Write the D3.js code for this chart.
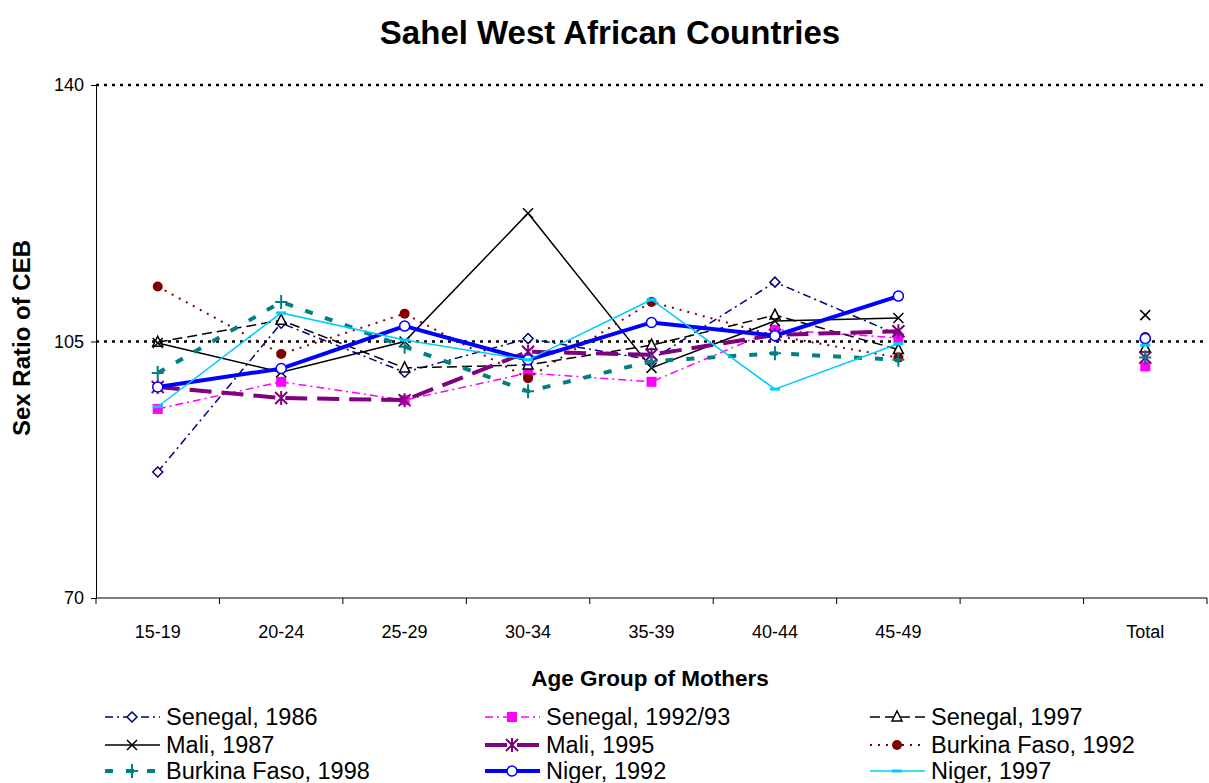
<!DOCTYPE html>
<html>
<head>
<meta charset="utf-8">
<script src="https://cdn.jsdelivr.net/npm/d3@7"></script>
<style>
  body { margin: 0; background: #fff; }
  svg text { font-family: "Liberation Sans", Arial, sans-serif; fill: #000; }
</style>
</head>
<body>
<script>
// categories on the x axis (one empty slot before Total)
const categories = ["15-19", "20-24", "25-29", "30-34", "35-39", "40-44", "45-49", "", "Total"];
const yTicks = [70, 105, 140];

// series values, null = no value for that category
const senegal1986  = [87.2, 107.5, 100.8, 105.4, 102.5, 113.1, 105.9, null, 105.2];
const senegal1992  = [95.8,  99.5,  97.0, 100.7,  99.5, 106.6, 105.5, null, 101.6];
const senegal1997  = [104.9, 107.9, 101.4, 101.8, 104.5, 108.6, 103.9, null, 104.1];
const mali1987     = [104.8, 100.8, 105.0, 122.5, 101.4, 107.8, 108.2, null, 108.6];
const mali1995     = [98.8,  97.3,  97.0, 103.6, 103.2, 105.9, 106.4, null, 102.8];
const burkina1992  = [112.5, 103.3, 108.8, 100.0, 110.4, 105.8, 102.8, null, 105.6];
const burkina1998  = [100.7, 110.4, 104.3,  98.2, 102.3, 103.4, 102.5, null, 102.8];
const niger1992    = [98.8, 101.3, 107.1, 102.5, 107.6, 105.8, 111.2, null, 105.4];
const niger1997    = [96.1, 108.9, 105.2, 102.5, 110.7,  98.5, 104.7, null, 104.5];

const series = [
  {name: "Senegal, 1986", values: senegal1986, color: "#000080", width: 1.5, dash: "8,4,2,4", marker: "diamond"},
  {name: "Senegal, 1992/93", values: senegal1992, color: "#ff00ff", width: 1.5, dash: "8,4,2,4", marker: "square"},
  {name: "Senegal, 1997", values: senegal1997, color: "#000000", width: 1.5, dash: "10,5", marker: "triangle"},
  {name: "Mali, 1987", values: mali1987, color: "#000000", width: 1.5, dash: null, marker: "x"},
  {name: "Mali, 1995", values: mali1995, color: "#800080", width: 4, dash: "22,10", marker: "asterisk"},
  {name: "Burkina Faso, 1992", values: burkina1992, color: "#800000", width: 2, dash: "2,6", marker: "circleFilled"},
  {name: "Burkina Faso, 1998", values: burkina1998, color: "#008080", width: 4, dash: "8,13", marker: "plus"},
  {name: "Niger, 1992", values: niger1992, color: "#0000ff", width: 4, dash: null, marker: "circle"},
  {name: "Niger, 1997", values: niger1997, color: "#00ccff", width: 1.5, dash: null, marker: "dash"}
];

const W = 1209, H = 783;
const mLeft = 96, mRight = 1207, mTop = 85, mBottom = 598;

const svg = d3.select("body").append("svg").attr("width", W).attr("height", H);

const x = d3.scaleBand().domain(categories.map((c, i) => i)).range([mLeft, mRight]);
const y = d3.scaleLinear().domain([70, 140]).range([mBottom, mTop]);

// title
svg.append("text").attr("x", 610).attr("y", 44).attr("text-anchor", "middle")
  .style("font-size", "33px").style("font-weight", "bold").text("Sahel West African Countries");

// gridlines (dotted) at 105 and 140
svg.selectAll(".grid").data([105, 140]).enter().append("line")
  .attr("x1", mLeft).attr("x2", mRight).attr("y1", d => y(d)).attr("y2", d => y(d))
  .attr("stroke", "#000").attr("stroke-width", 2.5).attr("stroke-dasharray", "3,5");

// y axis
const yAxis = d3.axisLeft(y).tickValues(yTicks).tickSize(5).tickPadding(7);
const gy = svg.append("g").attr("transform", `translate(${mLeft},0)`).call(yAxis);
gy.select(".domain").attr("stroke", "#000");
gy.selectAll("text").style("font-size", "18px");

// x axis line with ticks at category boundaries
svg.append("line").attr("x1", mLeft).attr("x2", mRight).attr("y1", mBottom).attr("y2", mBottom).attr("stroke", "#000");
const bounds = categories.map((c, i) => x(i)).concat([mRight]);
svg.selectAll(".xtick").data(bounds).enter().append("line")
  .attr("x1", d => d).attr("x2", d => d).attr("y1", mBottom).attr("y2", mBottom + 6).attr("stroke", "#000");
svg.selectAll(".xlab").data(categories).enter().append("text")
  .attr("x", (d, i) => x(i) + x.bandwidth() / 2).attr("y", 638).attr("text-anchor", "middle")
  .style("font-size", "18px").text(d => d);

// axis titles
svg.append("text").attr("x", 650).attr("y", 686).attr("text-anchor", "middle")
  .style("font-size", "22.5px").style("font-weight", "bold").text("Age Group of Mothers");
svg.append("text").attr("transform", "translate(30,338) rotate(-90)").attr("text-anchor", "middle")
  .style("font-size", "24px").style("font-weight", "bold").text("Sex Ratio of CEB");

function drawMarker(g, type, cx, cy, s) {
  const r = 5;
  if (type === "diamond") {
    g.append("path").attr("d", `M${cx},${cy - r}L${cx + r},${cy}L${cx},${cy + r}L${cx - r},${cy}Z`)
      .attr("fill", "#fff").attr("stroke", s.color).attr("stroke-width", 1.5);
  } else if (type === "square") {
    g.append("rect").attr("x", cx - 5).attr("y", cy - 5).attr("width", 10).attr("height", 10).attr("fill", s.color);
  } else if (type === "triangle") {
    g.append("path").attr("d", `M${cx},${cy - 6}L${cx + 5},${cy + 4}L${cx - 5},${cy + 4}Z`)
      .attr("fill", "#fff").attr("stroke", s.color).attr("stroke-width", 1.5);
  } else if (type === "x") {
    g.append("path").attr("d", `M${cx - 5},${cy - 5}L${cx + 5},${cy + 5}M${cx - 5},${cy + 5}L${cx + 5},${cy - 5}`)
      .attr("stroke", s.color).attr("stroke-width", 1.5);
  } else if (type === "asterisk") {
    g.append("path").attr("d", `M${cx - 6},${cy - 6}L${cx + 6},${cy + 6}M${cx - 6},${cy + 6}L${cx + 6},${cy - 6}M${cx},${cy - 7}L${cx},${cy + 7}`)
      .attr("stroke", s.color).attr("stroke-width", 2);
  } else if (type === "circleFilled") {
    g.append("circle").attr("cx", cx).attr("cy", cy).attr("r", 5).attr("fill", s.color);
  } else if (type === "plus") {
    g.append("path").attr("d", `M${cx - 6},${cy}L${cx + 6},${cy}M${cx},${cy - 7}L${cx},${cy + 7}`)
      .attr("stroke", s.color).attr("stroke-width", 2);
  } else if (type === "circle") {
    g.append("circle").attr("cx", cx).attr("cy", cy).attr("r", 5).attr("fill", "#fff")
      .attr("stroke", s.color).attr("stroke-width", 1.5);
  } else if (type === "dash") {
    g.append("line").attr("x1", cx - 5).attr("x2", cx + 5).attr("y1", cy).attr("y2", cy)
      .attr("stroke", s.color).attr("stroke-width", 3);
  }
}

const line = d3.line()
  .defined(d => d != null)
  .x((d, i) => x(i) + x.bandwidth() / 2)
  .y(d => y(d));

series.forEach(s => {
  const g = svg.append("g");
  g.append("path").attr("d", line(s.values)).attr("fill", "none")
    .attr("stroke", s.color).attr("stroke-width", s.width)
    .attr("stroke-dasharray", s.dash);
  s.values.forEach((v, i) => {
    if (v != null) drawMarker(g, s.marker, x(i) + x.bandwidth() / 2, y(v), s);
  });
});

// legend, 3 columns x 3 rows
const legCols = [105, 485, 870];
const legRows = [717, 745, 771];
series.forEach((s, i) => {
  const lx = legCols[i % 3], ly = legRows[Math.floor(i / 3)];
  const g = svg.append("g");
  g.append("line").attr("x1", lx).attr("x2", lx + 55).attr("y1", ly).attr("y2", ly)
    .attr("stroke", s.color).attr("stroke-width", s.width).attr("stroke-dasharray", s.dash);
  drawMarker(g, s.marker, lx + 27, ly, s);
  g.append("text").attr("x", lx + 61).attr("y", ly + 8).style("font-size", "23.5px").text(s.name);
});
</script>
</body>
</html>
